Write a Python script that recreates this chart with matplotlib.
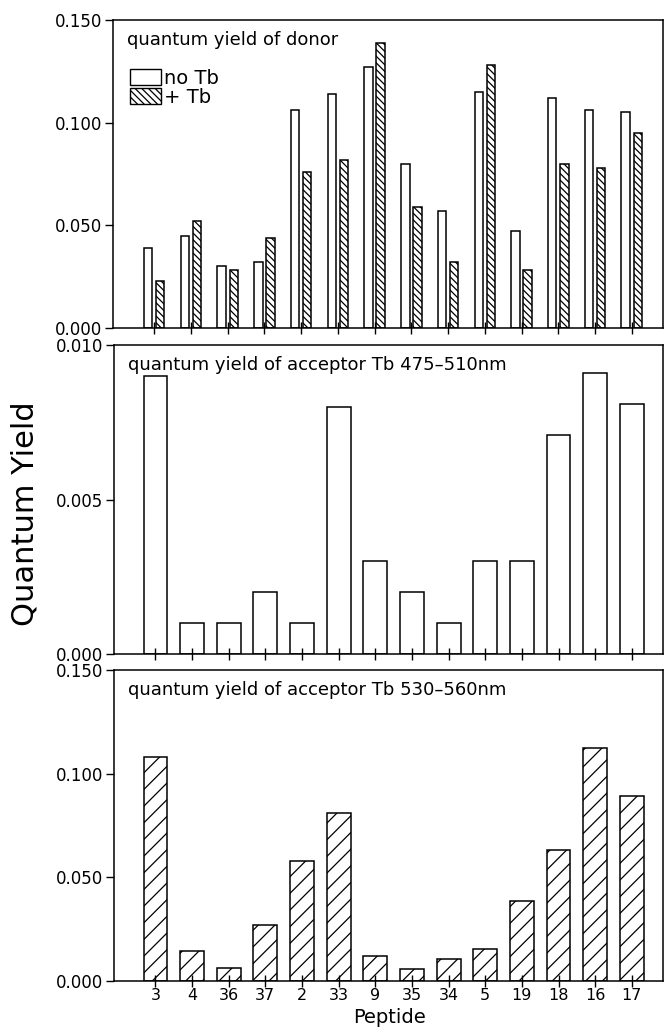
import matplotlib
matplotlib.use("Agg")
import matplotlib.pyplot as plt
from matplotlib.patches import Patch
import numpy as np

plt.rcParams['font.family'] = ['DejaVu Sans']
plt.rcParams['hatch.linewidth'] = 0.9

peptides = ["3", "4", "36", "37", "2", "33", "9", "35", "34", "5", "19", "18", "16", "17"]

donor_no_tb = [0.039, 0.045, 0.030, 0.032, 0.106, 0.114, 0.127, 0.080, 0.057, 0.115, 0.047, 0.112, 0.106, 0.105]
donor_plus_tb = [0.023, 0.052, 0.028, 0.044, 0.076, 0.082, 0.139, 0.059, 0.032, 0.128, 0.028, 0.080, 0.078, 0.095]
acc_475_510 = [0.0090, 0.0010, 0.0010, 0.0020, 0.0010, 0.0080, 0.0030, 0.0020, 0.0010, 0.0030, 0.0030, 0.0071, 0.0091, 0.0081]
acc_530_560 = [0.108, 0.0144, 0.0063, 0.027, 0.058, 0.081, 0.012, 0.0056, 0.0104, 0.0152, 0.0385, 0.063, 0.1126, 0.0892]

x = np.arange(len(peptides))

fig = plt.figure(figsize=(6.65, 10.28), dpi=100)
ax1 = fig.add_axes([0.170, 0.681, 0.827, 0.2995])
ax2 = fig.add_axes([0.172, 0.364, 0.825, 0.300])
ax3 = fig.add_axes([0.172, 0.0460, 0.825, 0.3020])

# donor panel: paired bars
ax1.bar(x - 0.165, donor_no_tb, width=0.23, facecolor="white", edgecolor="black", linewidth=1.1)
ax1.bar(x + 0.165, donor_plus_tb, width=0.23, facecolor="white", edgecolor="black", linewidth=1.1, hatch="\\\\\\\\\\")
ax1.set_ylim(0, 0.150)
ax1.set_yticks([0.0, 0.05, 0.10, 0.15])
ax1.set_yticklabels(["0.000", "0.050", "0.100", "0.150"])
ax1.text(0.025, 0.965, "quantum yield of donor", transform=ax1.transAxes, fontsize=13, va="top")
handles = [Patch(facecolor="white", edgecolor="black", label="no Tb"),
           Patch(facecolor="white", edgecolor="black", hatch="\\\\\\\\\\", label="+ Tb")]
ax1.legend(handles=handles, loc="upper left", bbox_to_anchor=(0.01, 0.88), frameon=False,
           fontsize=14, handlelength=1.6, handleheight=0.9, handletextpad=0.15,
           labelspacing=0.0, borderaxespad=0.2)

ax2.bar(x, acc_475_510, width=0.65, facecolor="white", edgecolor="black", linewidth=1.1)
ax2.set_ylim(0, 0.010)
ax2.set_yticks([0.0, 0.005, 0.010])
ax2.set_yticklabels(["0.000", "0.005", "0.010"])
ax2.text(0.025, 0.965, "quantum yield of acceptor Tb 475\u2013510nm", transform=ax2.transAxes, fontsize=13, va="top")

ax3.bar(x, acc_530_560, width=0.65, facecolor="white", edgecolor="black", linewidth=1.1, hatch="//")
ax3.set_ylim(0, 0.150)
ax3.set_yticks([0.0, 0.05, 0.10, 0.15])
ax3.set_yticklabels(["0.000", "0.050", "0.100", "0.150"])
ax3.text(0.025, 0.965, "quantum yield of acceptor Tb 530\u2013560nm", transform=ax3.transAxes, fontsize=13, va="top")

for ax in (ax1, ax2, ax3):
    ax.set_xlim(-1.12, 13.85)
    ax.set_xticks(x)
    ax.tick_params(axis="x", direction="inout", length=8, width=1, pad=1)
    ax.tick_params(axis="y", direction="out", length=6, width=1, labelsize=12, pad=2)
    for s in ax.spines.values():
        s.set_linewidth(1.1)
ax1.set_xticklabels([])
ax2.set_xticklabels([])
ax3.set_xticklabels(peptides, fontsize=11.5)

fig.text(0.038, 0.5, "Quantum Yield", rotation=90, fontsize=22, va="center", ha="center")
fig.text(0.585, 0.001, "Peptide", fontsize=14, va="bottom", ha="center")

fig.savefig("out.png", dpi=100)
